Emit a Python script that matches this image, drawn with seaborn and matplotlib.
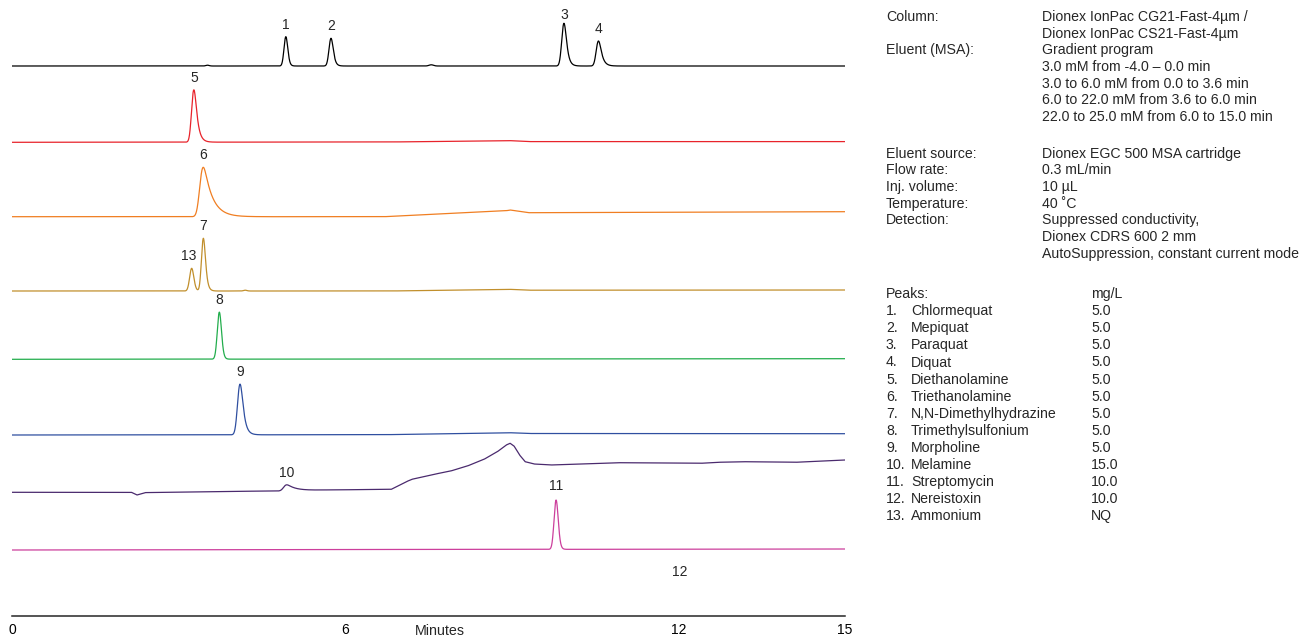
import numpy as np
import pandas as pd
import matplotlib
matplotlib.use('Agg')
import matplotlib.pyplot as plt
import seaborn as sns

# ---- data ----
x_ticks = [0, 6, 12, 15]

trace_colors = ['#000000', '#e8232b', '#f07e22', '#c18f2c', '#22ad4c', '#2f4fa0', '#4a2a6e', '#cc3f9c']
# baseline level of each stacked trace (signal units, bottom trace lowest)
trace_base = [550.0, 473.7, 399.3, 325.0, 256.7, 181.0, 123.7, 66.0]

# peaks: label, trace index, retention time (min), height, sigma (min), tailing (min)
peak_num = ['1', '2', '3', '4', '', '', '5', '6', '13', '7', '', '8', '9', '10', '11']
peak_trace = [0, 0, 0, 0, 0, 0, 1, 2, 3, 3, 3, 4, 5, 6, 7]
peak_rt = [4.93, 5.745, 9.94, 10.56, 3.52, 7.55, 3.275, 3.445, 3.235, 3.445, 4.2, 3.733, 4.106, 4.947, 9.797]
peak_height = [29.3, 27.7, 42.7, 25.0, 0.8, 1.2, 52.3, 49.4, 22.7, 52.7, 0.8, 47.0, 50.7, 6.0, 49.3]
peak_sigma = [0.03, 0.032, 0.034, 0.034, 0.03, 0.04, 0.034, 0.045, 0.034, 0.03, 0.03, 0.034, 0.038, 0.04, 0.034]
peak_tau = [0.02, 0.03, 0.04, 0.05, 0.0, 0.0, 0.05, 0.15, 0.02, 0.03, 0.0, 0.02, 0.05, 0.15, 0.02]

# baseline drift of each trace (time, level above its baseline)
drift_t = [
    [0, 15],
    [0, 6.8, 8.95, 9.3, 15],
    [0, 6.7, 8.9, 8.97, 9.3, 15],
    [0, 6.8, 8.95, 9.3, 15],
    [0, 15],
    [0, 6.7, 8.95, 9.3, 15],
    [0, 2.15, 2.25, 2.4, 4.03, 4.8, 5.6, 6.83, 7.1, 7.2, 7.6, 7.9, 8.2, 8.5, 8.74, 8.9, 8.97,
     9.04, 9.14, 9.24, 9.4, 9.7, 10.9, 12.4, 12.7, 13.15, 14.1, 15],
    [0, 15],
]
drift_v = [
    [0, 0],
    [0, 0.3, 1.7, 0.7, 0.7],
    [0, 0, 6.0, 6.7, 4.0, 5.0],
    [0, 0, 1.7, 0.8, 1.0],
    [0, 0.6],
    [0, 0.3, 2.3, 1.5, 1.3],
    [0, 0, -2.7, -0.3, 1.0, 1.3, 2.3, 3.0, 10.6, 13.0, 18.0, 21.3, 26.3, 33.0, 40.6, 47.3, 49.0,
     46.3, 37.3, 30.6, 28.3, 27.3, 29.6, 29.0, 30.0, 30.6, 30.0, 32.3],
    [0, 1.0],
]

info_left = ['Column:', '', 'Eluent (MSA):', '', '', '', '']
info_right = ['Dionex IonPac CG21-Fast-4µm /', 'Dionex IonPac CS21-Fast-4µm', 'Gradient program',
              '3.0 mM from -4.0 – 0.0 min', '3.0 to 6.0 mM from 0.0 to 3.6 min',
              '6.0 to 22.0 mM from 3.6 to 6.0 min', '22.0 to 25.0 mM from 6.0 to 15.0 min']
cond_left = ['Eluent source:', 'Flow rate:', 'Inj. volume:', 'Temperature:', 'Detection:', '', '']
cond_right = ['Dionex EGC 500 MSA cartridge', '0.3 mL/min', '10 µL', '40 ˚C', 'Suppressed conductivity,',
              'Dionex CDRS 600 2 mm', 'AutoSuppression, constant current mode']
analytes = ['Chlormequat', 'Mepiquat', 'Paraquat', 'Diquat', 'Diethanolamine', 'Triethanolamine',
            'N,N-Dimethylhydrazine', 'Trimethylsulfonium', 'Morpholine', 'Melamine', 'Streptomycin',
            'Nereistoxin', 'Ammonium']
conc = ['5.0', '5.0', '5.0', '5.0', '5.0', '5.0', '5.0', '5.0', '5.0', '15.0', '10.0', '10.0', 'NQ']

# ---- build traces ----
t = np.linspace(0, 15, 7501)
dt = t[1] - t[0]


def peak_shape(rt, h, sig, tau):
    g = np.exp(-0.5 * ((t - rt) / sig) ** 2)
    if tau > 0:
        k = np.exp(-np.arange(0, 8 * tau, dt) / tau)
        g = np.convolve(g, k)[:len(t)]
    apex = t[np.argmax(g)]
    g = np.interp(t, t + (rt - apex), g)
    return h * g / g.max()


frames = []
for i in range(len(trace_colors)):
    y = trace_base[i] + np.interp(t, drift_t[i], drift_v[i])
    for j in range(len(peak_rt)):
        if peak_trace[j] == i:
            y = y + peak_shape(peak_rt[j], peak_height[j], peak_sigma[j], peak_tau[j])
    frames.append(pd.DataFrame({'Minutes': t, 'signal': y, 'trace': i}))
df = pd.concat(frames, ignore_index=True)

# ---- plot ----
W, H = 1308, 636
fig = plt.figure(figsize=(W / 100, H / 100), dpi=100)
sns.set_style('white')
plt.rcParams['font.family'] = ['Liberation Sans', 'DejaVu Sans']

ax = fig.add_axes([12 / W, 20 / H, 833 / W, 616 / H])
sns.lineplot(data=df, x='Minutes', y='signal', hue='trace', palette=trace_colors,
             estimator=None, sort=False, legend=False, linewidth=0.9, ax=ax)
ax.set_xlim(0, 15)
ax.set_ylim(0, 616)
ax.set_yticks([])
ax.set_xticks(x_ticks)
ax.set_xticklabels([str(v) for v in x_ticks], fontsize=10)
ax.set_xlabel('')
ax.set_ylabel('')
for s in ['left', 'top', 'right']:
    ax.spines[s].set_visible(False)
ax.spines['bottom'].set_linewidth(1.1)
ax.tick_params(axis='x', direction='out', length=3.5, width=1.1, pad=1.5, colors='black')
fig.text(440 / W, 1 - 631 / H, 'Minutes', ha='center', va='center', fontsize=10.3)

# peak numbers
label_dx = {'13': -0.06}
label_dy = {'3': 6.2, '11': 10}
for j in range(len(peak_rt)):
    if peak_num[j] == '':
        continue
    i = peak_trace[j]
    top = trace_base[i] + np.interp(peak_rt[j], drift_t[i], drift_v[i]) + peak_height[j]
    ax.annotate(peak_num[j], (peak_rt[j] + label_dx.get(peak_num[j], 0), top),
                xytext=(0, label_dy.get(peak_num[j], 8.5)),
                textcoords='offset points', ha='center', va='center', fontsize=10)
# Nereistoxin (12) has no visible peak at 12.0 min
ax.text(12.02, trace_base[7] - 21.7, '12', ha='center', va='center', fontsize=10)

# conditions panel
fs = 10.2


def put(px, py, s):
    fig.text(px / W, 1 - (py + 5) / H, s, ha='left', va='baseline', fontsize=fs)


for k in range(len(info_right)):
    put(886, 16 + 16.67 * k, info_left[k])
    put(1042, 16 + 16.67 * k, info_right[k])
for k in range(len(cond_right)):
    put(886, 152.7 + 16.67 * k, cond_left[k])
    put(1042, 152.7 + 16.67 * k, cond_right[k])
put(886, 293.3, 'Peaks:')
put(1091, 293.3, 'mg/L')
for k in range(len(analytes)):
    y = 293.3 + 17.05 * (k + 1)
    put(886, y, '%d.' % (k + 1))
    put(911, y, analytes[k])
    put(1091, y, conc[k])

fig.savefig('out.png', dpi=100, facecolor='w')
